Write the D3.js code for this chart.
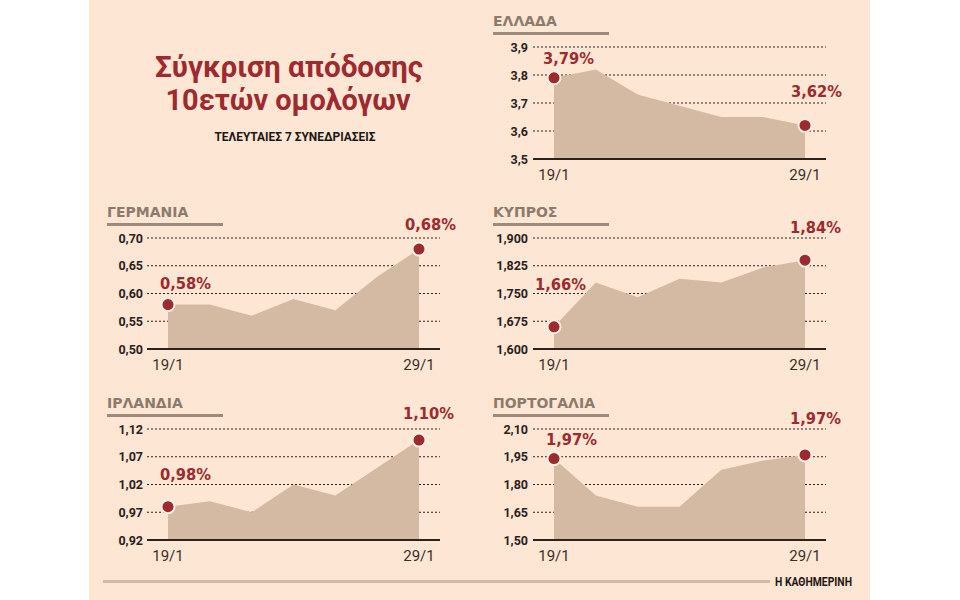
<!DOCTYPE html>
<meta charset="utf-8">
<script src="https://d3js.org/d3.v7.min.js"></script>
<style>
	body{
		margin:0;
		background:#fff;
	}
	svg text{
		font-family: Roboto, 'Open Sans', sans-serif;
	}
</style>
<div id="chart"></div>
<script>
	// data
	var countries = ["ΕΛΛΑΔΑ","ΓΕΡΜΑΝΙΑ","ΚΥΠΡΟΣ","ΙΡΛΑΝΔΙΑ","ΠΟΡΤΟΓΑΛΙΑ"]
	var dateLabels = ["19/1","29/1"]

	var greece = [3.79,3.82,3.73,3.69,3.65,3.65,3.62]
	var germany = [0.58,0.58,0.56,0.59,0.57,0.63,0.68]
	var cyprus = [1.66,1.78,1.74,1.79,1.78,1.82,1.84]
	var ireland = [0.98,0.99,0.97,1.02,1.00,1.05,1.10]
	var portugal = [1.94,1.74,1.68,1.68,1.88,1.93,1.96]

	var greeceTicks = [3.5,3.6,3.7,3.8,3.9]
	var germanyTicks = [0.50,0.55,0.60,0.65,0.70]
	var cyprusTicks = [1.600,1.675,1.750,1.825,1.900]
	var irelandTicks = [0.92,0.97,1.02,1.07,1.12]
	var portugalTicks = [1.50,1.65,1.80,1.95,2.10]

	var greeceLabels = ["3,79%","3,62%"]
	var germanyLabels = ["0,58%","0,68%"]
	var cyprusLabels = ["1,66%","1,84%"]
	var irelandLabels = ["0,98%","1,10%"]
	var portugalLabels = ["1,97%","1,97%"]

	var tickDecimals = [1,2,3,2,2]

	// layout
	var w = 960
	var h = 600
	var cols = [
		{titleX:107, labelRight:143, gridX0:147, gridX1:440, x0:168, x1:419},
		{titleX:493, labelRight:528, gridX0:533, gridX1:826, x0:554, x1:805}
	]
	var rows = [{top:47, bottom:159},{top:238, bottom:349},{top:429, bottom:540}]
	var panels = [
		{name:countries[0], values:greece, ticks:greeceTicks, labels:greeceLabels, dec:tickDecimals[0], col:1, row:0, lab:[[-11,-14],[-14,-28]]},
		{name:countries[1], values:germany, ticks:germanyTicks, labels:germanyLabels, dec:tickDecimals[1], col:0, row:1, lab:[[-8,-16],[-14,-19]]},
		{name:countries[2], values:cyprus, ticks:cyprusTicks, labels:cyprusLabels, dec:tickDecimals[2], col:1, row:1, lab:[[-19,-37],[-15,-27]]},
		{name:countries[3], values:ireland, ticks:irelandTicks, labels:irelandLabels, dec:tickDecimals[3], col:0, row:2, lab:[[-8,-27],[-16,-21]]},
		{name:countries[4], values:portugal, ticks:portugalTicks, labels:portugalLabels, dec:tickDecimals[4], col:1, row:2, lab:[[-8,-14],[-15,-31]]}
	]

	var red = "#9d2a2f"
	var areaColor = "#d5baa3"
	var dark = "#2b211d"

	var locale = d3.formatLocale({decimal:",", thousands:".", grouping:[3], currency:["","€"]})

	var svg = d3.select("#chart").append("svg").attr("width",w).attr("height",h)

	svg.append("rect").attr("x",89).attr("y",0).attr("width",781).attr("height",h).attr("fill","#fde6d3")

	// headline
	var head = svg.append("g").attr("fill",red).attr("text-anchor","middle")
	head.append("text").text("Σύγκριση απόδοσης").attr("x",289).attr("y",77)
		.style("font-size","29px").style("font-weight",700)
		.attr("textLength",268).attr("lengthAdjust","spacingAndGlyphs")
	head.append("text").text("10ετών ομολόγων").attr("x",288).attr("y",110)
		.style("font-size","29px").style("font-weight",700)
		.attr("textLength",245).attr("lengthAdjust","spacingAndGlyphs")
	svg.append("text").text("ΤΕΛΕΥΤΑΙΕΣ 7 ΣΥΝΕΔΡΙΑΣΕΙΣ").attr("x",295).attr("y",141)
		.attr("text-anchor","middle").attr("fill","#1e1714")
		.style("font-size","12px").style("font-weight",700)
		.attr("textLength",161).attr("lengthAdjust","spacingAndGlyphs")

	panels.forEach(drawPanel)

	// footer
	svg.append("rect").attr("x",103).attr("y",580).attr("width",667).attr("height",3).attr("fill","#cdbcae")
	svg.append("text").text("Η ΚΑΘΗΜΕΡΙΝΗ").attr("x",775).attr("y",586)
		.attr("fill","#1e1714").style("font-size","12px").style("font-weight",700)
		.attr("textLength",77).attr("lengthAdjust","spacingAndGlyphs")

function drawPanel(p){
	var c = cols[p.col]
	var r = rows[p.row]
	var g = svg.append("g")

	var x = d3.scaleLinear().domain([0,p.values.length-1]).range([c.x0,c.x1])
	var y = d3.scaleLinear().domain([p.ticks[0],p.ticks[p.ticks.length-1]]).range([r.bottom,r.top])
	var fmt = locale.format("."+p.dec+"f")

	// country title + bar
	g.append("text").text(p.name).attr("x",c.titleX).attr("y",r.top-21)
		.attr("fill","#8c7b6d").style("font-family","'DejaVu Sans', sans-serif")
		.style("font-size","14px").style("font-weight",700)
	g.append("rect").attr("x",c.titleX).attr("y",r.top-15).attr("width",116).attr("height",3).attr("fill","#9c8b7d")

	// dotted grid
	g.selectAll(".grid").data(p.ticks.slice(1)).join("line")
		.attr("x1",c.gridX0).attr("x2",c.gridX1)
		.attr("y1",d=>y(d)).attr("y2",d=>y(d))
		.attr("stroke",dark).attr("stroke-width",1).attr("stroke-dasharray","2,2")

	// tick labels
	g.selectAll(".tick").data(p.ticks).join("text")
		.text(d=>fmt(d))
		.attr("x",c.labelRight).attr("y",d=>y(d)+4.5)
		.attr("text-anchor","end").attr("fill",dark)
		.style("font-size","12.5px").style("font-weight",700)

	// area
	var area = d3.area().x((d,i)=>x(i)).y0(r.bottom).y1(d=>y(d))
	g.append("path").datum(p.values).attr("d",area).attr("fill",areaColor)

	// baseline
	g.append("line").attr("x1",c.gridX0).attr("x2",c.gridX1)
		.attr("y1",r.bottom).attr("y2",r.bottom)
		.attr("stroke",dark).attr("stroke-width",2)

	// date labels
	var ends = [0,p.values.length-1]
	g.selectAll(".date").data(ends).join("text")
		.text((d,i)=>dateLabels[i])
		.attr("x",d=>x(d)).attr("y",r.bottom+21)
		.attr("text-anchor","middle").attr("fill","#3a2e29")
		.style("font-size","15px")

	// end dots
	g.selectAll(".dot").data(ends).join("circle")
		.attr("cx",d=>x(d)).attr("cy",d=>y(p.values[d])).attr("r",6.5)
		.attr("fill",red).attr("stroke","#fbeee3").attr("stroke-width",2)

	// value labels
	g.selectAll(".val").data(ends).join("text")
		.text((d,i)=>p.labels[i])
		.attr("x",(d,i)=>x(d)+p.lab[i][0])
		.attr("y",(d,i)=>y(p.values[d])+p.lab[i][1])
		.attr("fill",red)
		.style("font-family","'DejaVu Sans', sans-serif")
		.style("font-size","16px").style("font-weight",700)
		.attr("textLength",51).attr("lengthAdjust","spacingAndGlyphs")
}
</script>
